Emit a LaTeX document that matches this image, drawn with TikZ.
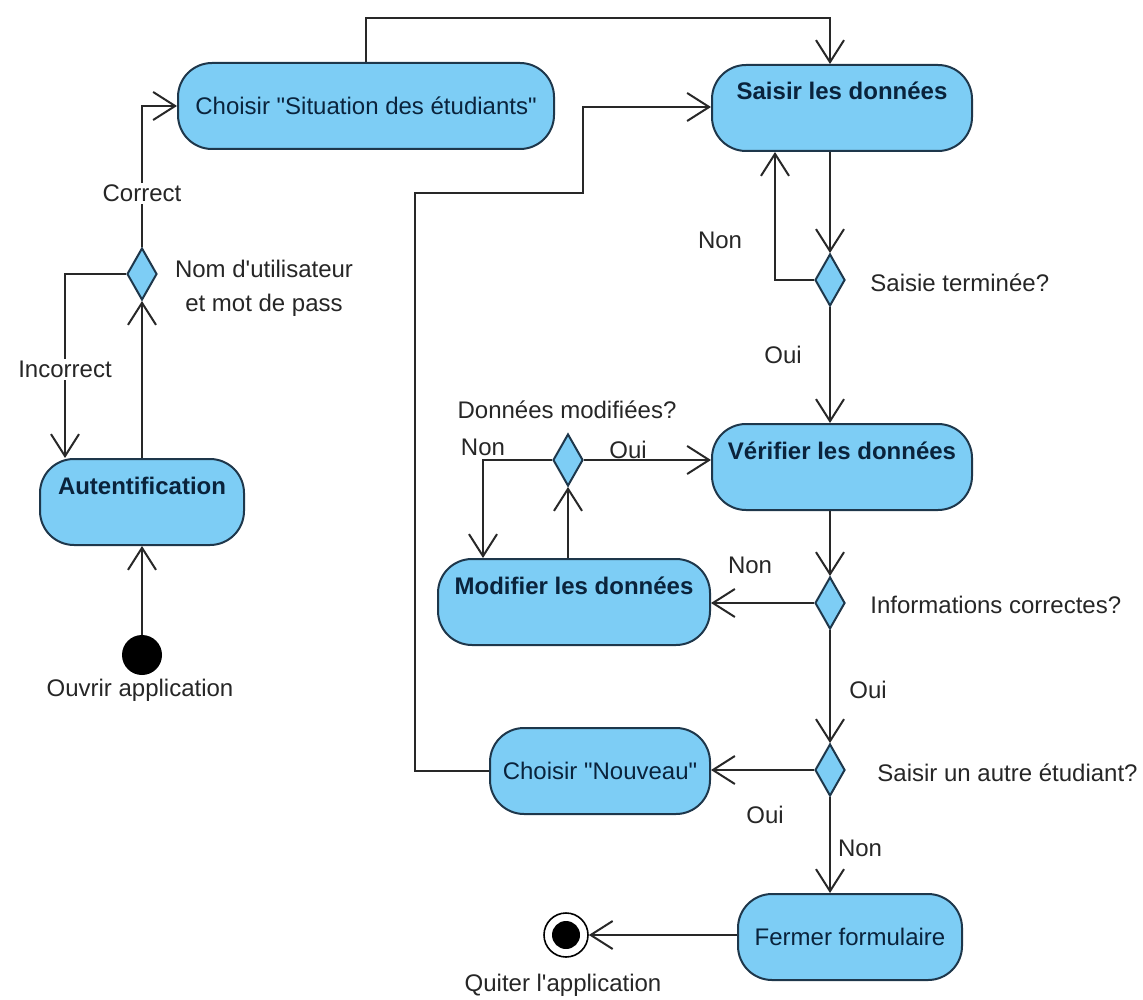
\documentclass[tikz,border=0pt]{standalone}
\usepackage{fontspec}
\setmainfont{Liberation Sans}
\usetikzlibrary{shapes.geometric,arrows.meta,positioning}
\definecolor{actfill}{RGB}{125,205,245}
\definecolor{actline}{RGB}{30,55,75}
\definecolor{acttext}{RGB}{10,35,60}
\definecolor{flowline}{RGB}{40,40,40}
\tikzset{
  act/.style={draw=actline, fill=actfill, line width=1pt, rounded corners=17pt,
    text=acttext, font=\fontsize{12}{14}\selectfont, minimum height=43pt, inner sep=2pt},
  actb/.style={act, font=\fontsize{12}{14}\selectfont\bfseries, text height=9pt, text depth=17pt},
  choice/.style={diamond, draw=actline, fill=actfill, line width=1pt,
    minimum width=15pt, minimum height=26pt, inner sep=0pt},
  flow/.style={draw=flowline, line width=1pt, -{Straight Barb[length=11pt,width=14pt]}},
  lbl/.style={font=\fontsize{12}{14}\selectfont, text=black!85, inner sep=1pt},
}

\begin{document}
\begin{tikzpicture}[x=0.5pt,y=-0.5pt]
	\useasboundingbox (0,0) rectangle (1143,999);
	% activites
	\node[act, minimum width=188pt] (sit) at (366,106) {Choisir \textquotedbl Situation des étudiants\textquotedbl};
	\node[actb, minimum width=130pt] (saisir) at (842,108) {Saisir les données};
	\node[actb, minimum width=102pt] (auth) at (142,502) {Autentification};
	\node[actb, minimum width=130pt] (verif) at (842,467) {Vérifier les données};
	\node[actb, minimum width=136pt] (modif) at (574,602) {Modifier les données};
	\node[act, minimum width=110pt] (nouv) at (600,771) {Choisir \textquotedbl Nouveau\textquotedbl};
	\node[act, minimum width=112pt] (fermer) at (850,937) {Fermer formulaire};
	% decisions
	\node[choice] (d1) at (142,274) {};
	\node[choice] (d2) at (830,280) {};
	\node[choice] (d3) at (568,460) {};
	\node[choice] (d4) at (830,603) {};
	\node[choice] (d5) at (830,770) {};
	% debut / fin
	\node[circle, fill=black, minimum size=20pt, inner sep=0pt] (start) at (142,655) {};
	\node[circle, draw=black, fill=white, line width=0.8pt, minimum size=22pt, inner sep=0pt,
		path picture={\fill[black] (path picture bounding box.center) circle (7pt);}] (final) at (566,935) {};
	\coordinate (top) at (830,18);
	\coordinate (loopa) at (415,193);
	\coordinate (loopb) at (583,107);

	\draw[flow] (start) -- (auth.south -| start);
	\draw[flow] (auth.north -| d1) -- (d1.south);
	\draw[flow] (d1.west) -| ([xshift=-38.5pt]auth.north) node[pos=0.76, lbl, fill=white] {Incorrect};
	\draw[flow] (d1.north) |- (sit.west) node[pos=0.19, lbl, fill=white] {Correct};
	\draw[flow] (sit.north) |- (top) -- (saisir.north -| top);
	\draw[flow] (saisir.south -| d2) -- (d2.north);
	\draw[flow] (d2.west) -| ([xshift=-33.5pt]saisir.south);
	\draw[flow] (d2.south) -- (verif.north -| d2);
	\draw[flow] (verif.south -| d4) -- (d4.north);
	\draw[flow] (d4.west) -- (modif.east |- d4);
	\draw[flow] (modif.north -| d3) -- (d3.south);
	\draw[flow] (d3.west) -| ([xshift=-45.5pt]modif.north);
	\draw[flow] (d3.east) -- (verif.west |- d3);
	\draw[flow] (d4.south) -- (d5.north);
	\draw[flow] (d5.west) -- (nouv.east |- d5);
	\draw[flow] (nouv.west) -| (loopa) -| (loopb) -- (saisir.west |- loopb);
	\draw[flow] (d5.south) -- (fermer.north -| d5);
	\draw[flow] (fermer.west |- final) -- (final);

	% textes
	\node[lbl, align=center] (t1) at (264,288) {Nom d\textquotesingle utilisateur\\[3pt]et mot de pass};
	\node[lbl] (t2) at (140,690) {Ouvrir application};
	\node[lbl] (t3) at (720,240) {Non};
	\node[lbl, anchor=west] (t4) at (868,283) {Saisie terminée?};
	\node[lbl] (t5) at (783,355) {Oui};
	\node[lbl] (t6) at (567,410) {Données modifiées?};
	\node[lbl] (t7) at (483,447) {Non};
	\node[lbl] (t8) at (628,450) {Oui};
	\node[lbl] (t9) at (750,565) {Non};
	\node[lbl, anchor=west] (t10) at (868,605) {Informations correctes?};
	\node[lbl] (t11) at (868,690) {Oui};
	\node[lbl, anchor=west] (t12) at (875,773) {Saisir un autre étudiant?};
	\node[lbl] (t13) at (765,815) {Oui};
	\node[lbl] (t14) at (860,848) {Non};
	\node[lbl] (t15) at (563,985) {Quiter l\textquotesingle application};
\end{tikzpicture}
\end{document}
